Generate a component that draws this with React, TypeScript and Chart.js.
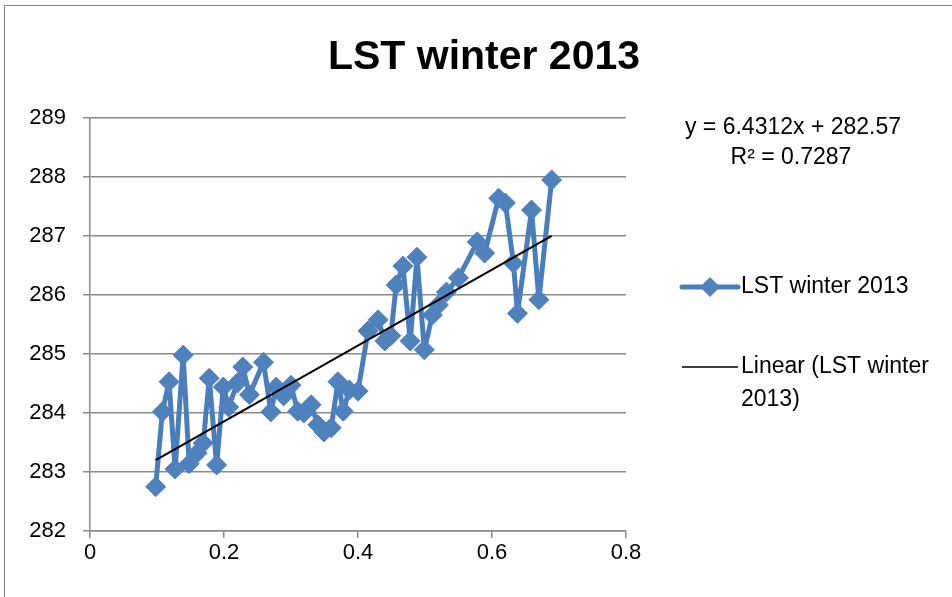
import { useEffect, useRef } from "react";
import { Chart, registerables } from "chart.js";

Chart.register(...registerables);

const chartTitle = "LST winter 2013";
const seriesName = "LST winter 2013";
const trendNameLines = ["Linear (LST winter", "2013)"];

const xValues = [
  0.098, 0.108, 0.118, 0.127, 0.139, 0.148, 0.16, 0.169, 0.178, 0.189,
  0.199, 0.207, 0.22, 0.228, 0.238, 0.259, 0.27, 0.278, 0.289, 0.3,
  0.31, 0.319, 0.33, 0.34, 0.349, 0.36, 0.37, 0.378, 0.387, 0.4,
  0.415, 0.43, 0.44, 0.449, 0.457, 0.467, 0.478, 0.488, 0.499, 0.511,
  0.52, 0.532, 0.55, 0.578, 0.589, 0.61, 0.62, 0.632, 0.638, 0.659,
  0.67, 0.689,
];

const lstValues = [
  282.75, 284.02, 284.53, 283.05, 284.98, 283.14, 283.32, 283.49, 284.59, 283.12,
  284.44, 284.1, 284.51, 284.78, 284.31, 284.86, 284.02, 284.44, 284.29, 284.47,
  284.03, 284.0, 284.14, 283.8, 283.68, 283.75, 284.53, 284.03, 284.39, 284.37,
  285.39, 285.58, 285.22, 285.31, 286.17, 286.49, 285.22, 286.64, 285.07, 285.66,
  285.83, 286.05, 286.29, 286.9, 286.71, 287.64, 287.56, 286.54, 285.69, 287.44,
  285.92, 287.95,
];

const trendSlope = 6.4312;
const trendIntercept = 282.57;
const rSquared = 0.7287;

const yMin = 282;
const yMax = 289;
const yStep = 1;
const xMin = 0;
const xMax = 0.8;
const xStep = 0.2;

const FONT = "'Liberation Sans', Arial, sans-serif";
const LINE_BLUE = "#4A7EBB";
const MARK_BLUE = "#4F81BD";
const GRID = "#8a8a8a";

export default function App() {
  const ref = useRef<HTMLCanvasElement | null>(null);

  useEffect(() => {
    if (!ref.current) return;
    const points = xValues.map((x, i) => ({ x, y: lstValues[i] }));
    const x0 = Math.min(...xValues);
    const x1 = Math.max(...xValues);
    const trend = [x0, x1].map((x) => ({ x, y: trendSlope * x + trendIntercept }));

    const overlay = {
      id: "overlay",
      afterDraw(chart: any) {
        const ctx = chart.ctx as CanvasRenderingContext2D;
        ctx.save();
        ctx.fillStyle = "#000";
        ctx.textBaseline = "middle";
        ctx.font = `bold 41px ${FONT}`;
        ctx.textAlign = "center";
        ctx.fillText(chartTitle, 484, 58);
        ctx.font = `23px ${FONT}`;
        ctx.fillText(`y = ${trendSlope}x + ${trendIntercept}`, 793, 128);
        ctx.fillText(`R² = ${rSquared}`, 791, 158);
        ctx.textAlign = "left";
        ctx.fillText(seriesName, 741, 287);
        ctx.fillText(trendNameLines[0], 741, 367);
        ctx.fillText(trendNameLines[1], 741, 400);
        ctx.strokeStyle = LINE_BLUE;
        ctx.lineWidth = 5;
        ctx.lineCap = "round";
        ctx.beginPath();
        ctx.moveTo(682, 287);
        ctx.lineTo(738, 287);
        ctx.stroke();
        ctx.fillStyle = MARK_BLUE;
        ctx.beginPath();
        ctx.moveTo(710, 277);
        ctx.lineTo(720, 287);
        ctx.lineTo(710, 297);
        ctx.lineTo(700, 287);
        ctx.closePath();
        ctx.fill();
        ctx.strokeStyle = "#000";
        ctx.lineWidth = 1.5;
        ctx.lineCap = "butt";
        ctx.beginPath();
        ctx.moveTo(682, 367);
        ctx.lineTo(738, 367);
        ctx.stroke();
        ctx.restore();
      },
    };

    const chart = new Chart(ref.current, {
      type: "scatter",
      data: {
        datasets: [
          {
            label: trendNameLines.join(" "),
            data: trend,
            showLine: true,
            borderColor: "#000",
            borderWidth: 2,
            pointRadius: 0,
            order: 0,
          },
          {
            label: seriesName,
            data: points,
            showLine: true,
            borderColor: LINE_BLUE,
            borderWidth: 5,
            borderJoinStyle: "round",
            borderCapStyle: "round",
            backgroundColor: MARK_BLUE,
            pointStyle: "rectRot",
            pointRadius: 10,
            pointBorderWidth: 1,
            pointBorderColor: MARK_BLUE,
            order: 1,
          },
        ],
      },
      options: {
        responsive: false,
        animation: false,
        layout: { padding: { top: 118, right: 326, bottom: 0, left: 0 } },
        plugins: { legend: { display: false }, tooltip: { enabled: false }, title: { display: false } },
        scales: {
          x: {
            type: "linear",
            min: xMin,
            max: xMax,
            ticks: { stepSize: xStep, color: "#000", font: { family: FONT, size: 22 }, padding: 2 },
            grid: { drawOnChartArea: false, drawTicks: true, tickLength: 7, color: GRID, lineWidth: 1.5 },
            border: { color: GRID, width: 1.5 },
            afterFit(s: any) {
              s.height = 66;
            },
          },
          y: {
            type: "linear",
            min: yMin,
            max: yMax,
            ticks: { stepSize: yStep, color: "#000", font: { family: FONT, size: 22 }, padding: 17 },
            grid: { drawTicks: true, tickLength: 7, color: GRID, lineWidth: 1.5 },
            border: { color: GRID, width: 1.5 },
            afterFit(s: any) {
              s.width = 90;
            },
          },
        },
      },
      plugins: [overlay],
    } as any);

    return () => chart.destroy();
  }, []);

  return (
    <div style={{ position: "absolute", left: 0, top: 0, width: 952, height: 597, overflow: "hidden", background: "#fff" }}>
      <div
        style={{
          position: "absolute",
          left: 4,
          top: 5,
          width: 1000,
          height: 1000,
          border: "1px solid #8a8a8a",
          boxSizing: "border-box",
        }}
      />
      <canvas ref={ref} width={952} height={597} style={{ position: "absolute", left: 0, top: 0 }} />
    </div>
  );
}
